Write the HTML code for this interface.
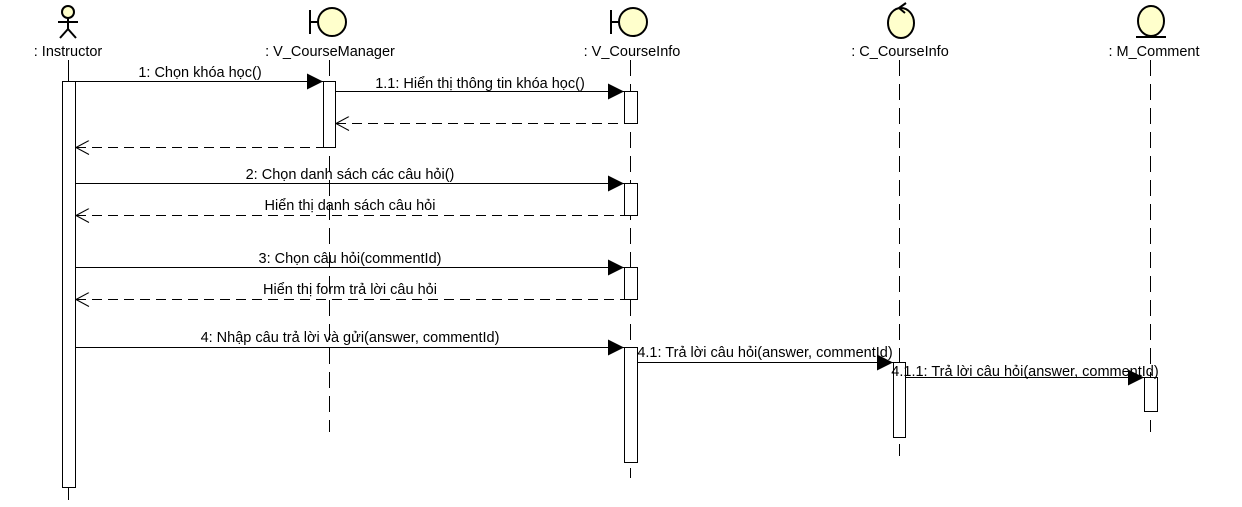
<!DOCTYPE html>
<html><head><meta charset="utf-8"><style>
html,body{margin:0;padding:0;background:#fff;}
svg{display:block;font-family:"Liberation Sans",Arial,sans-serif;font-size:14.5px;}
</style></head><body>
<svg width="1242" height="507" viewBox="0 0 1242 507" xmlns="http://www.w3.org/2000/svg">
<defs>
<marker id="fa" markerWidth="18" markerHeight="18" refX="16" refY="8" orient="auto" markerUnits="userSpaceOnUse"><path d="M0,0 L16,8 L0,16 z" fill="#000"/></marker>
<marker id="oa" markerWidth="16" markerHeight="16" refX="0" refY="7" orient="auto" markerUnits="userSpaceOnUse"><path d="M13,0 L0,7 L13,14" fill="none" stroke="#000"/></marker>
</defs>
<g stroke="#000" fill="none">
<line x1="68.5" y1="60" x2="68.5" y2="500"/>
<line x1="329.5" y1="60" x2="329.5" y2="432" stroke-dasharray="16,8"/>
<line x1="630.5" y1="60" x2="630.5" y2="478" stroke-dasharray="16,8"/>
<line x1="899.5" y1="60" x2="899.5" y2="456" stroke-dasharray="16,8"/>
<line x1="1150.5" y1="60" x2="1150.5" y2="432" stroke-dasharray="16,8"/>
</g>
<g stroke="#000" stroke-width="2">
<circle cx="68" cy="12" r="6" fill="#ffffcc"/>
<line x1="68" y1="18" x2="68" y2="29"/><line x1="58" y1="22" x2="78" y2="22"/>
<line x1="68" y1="29" x2="60" y2="38"/><line x1="68" y1="29" x2="76" y2="38"/>
<ellipse cx="332" cy="22" rx="14" ry="14" fill="#ffffcc"/><line x1="310" y1="22" x2="318" y2="22"/><line x1="310" y1="10" x2="310" y2="34"/>
<ellipse cx="633" cy="22" rx="14" ry="14" fill="#ffffcc"/><line x1="611" y1="22" x2="619" y2="22"/><line x1="611" y1="10" x2="611" y2="34"/>
<ellipse cx="901" cy="23" rx="13" ry="15" fill="#ffffcc"/><path d="M899,8 L906,3 M899,8 L905,13" fill="none"/>
<ellipse cx="1151" cy="21" rx="13" ry="15" fill="#ffffcc"/><line x1="1136" y1="37" x2="1166" y2="37"/>
</g>
<g fill="#000" text-anchor="middle">
<text x="68" y="56">: Instructor</text>
<text x="330" y="56">: V_CourseManager</text>
<text x="632" y="56">: V_CourseInfo</text>
<text x="900" y="56">: C_CourseInfo</text>
<text x="1154" y="56">: M_Comment</text>
</g>
<g stroke="#000" fill="#fff">
<rect x="62.5" y="81.5" width="13" height="406"/>
<rect x="323.5" y="81.5" width="12" height="66"/>
<rect x="624.5" y="91.5" width="13" height="32"/>
<rect x="624.5" y="183.5" width="13" height="32"/>
<rect x="624.5" y="267.5" width="13" height="32"/>
<rect x="624.5" y="347.5" width="13" height="115"/>
<rect x="893.5" y="362.5" width="12" height="75"/>
<rect x="1144.5" y="377.5" width="13" height="34"/>
</g>
<g stroke="#000" fill="none">
<line x1="76" y1="81.5" x2="323" y2="81.5" marker-end="url(#fa)"/>
<line x1="336" y1="91.5" x2="624" y2="91.5" marker-end="url(#fa)"/>
<line x1="336" y1="123.5" x2="624" y2="123.5" stroke-dasharray="10,6" marker-start="url(#oa)"/>
<line x1="76" y1="147.5" x2="323" y2="147.5" stroke-dasharray="10,6" marker-start="url(#oa)"/>
<line x1="76" y1="183.5" x2="624" y2="183.5" marker-end="url(#fa)"/>
<line x1="76" y1="215.5" x2="624" y2="215.5" stroke-dasharray="10,6" marker-start="url(#oa)"/>
<line x1="76" y1="267.5" x2="624" y2="267.5" marker-end="url(#fa)"/>
<line x1="76" y1="299.5" x2="624" y2="299.5" stroke-dasharray="10,6" marker-start="url(#oa)"/>
<line x1="76" y1="347.5" x2="624" y2="347.5" marker-end="url(#fa)"/>
<line x1="638" y1="362.5" x2="893" y2="362.5" marker-end="url(#fa)"/>
<line x1="906" y1="377.5" x2="1144" y2="377.5" marker-end="url(#fa)"/>
</g>
<g fill="#000" text-anchor="middle">
<text x="200" y="77">1: Chọn khóa học()</text>
<text x="480" y="88">1.1: Hiển thị thông tin khóa học()</text>
<text x="350" y="179">2: Chọn danh sách các câu hỏi()</text>
<text x="350" y="210">Hiển thị danh sách câu hỏi</text>
<text x="350" y="263">3: Chọn câu hỏi(commentId)</text>
<text x="350" y="294">Hiển thị form trả lời câu hỏi</text>
<text x="350" y="342">4: Nhập câu trả lời và gửi(answer, commentId)</text>
<text x="765" y="357">4.1: Trả lời câu hỏi(answer, commentId)</text>
<text x="1025" y="376">4.1.1: Trả lời câu hỏi(answer, commentId)</text>
</g>
</svg>
</body></html>
